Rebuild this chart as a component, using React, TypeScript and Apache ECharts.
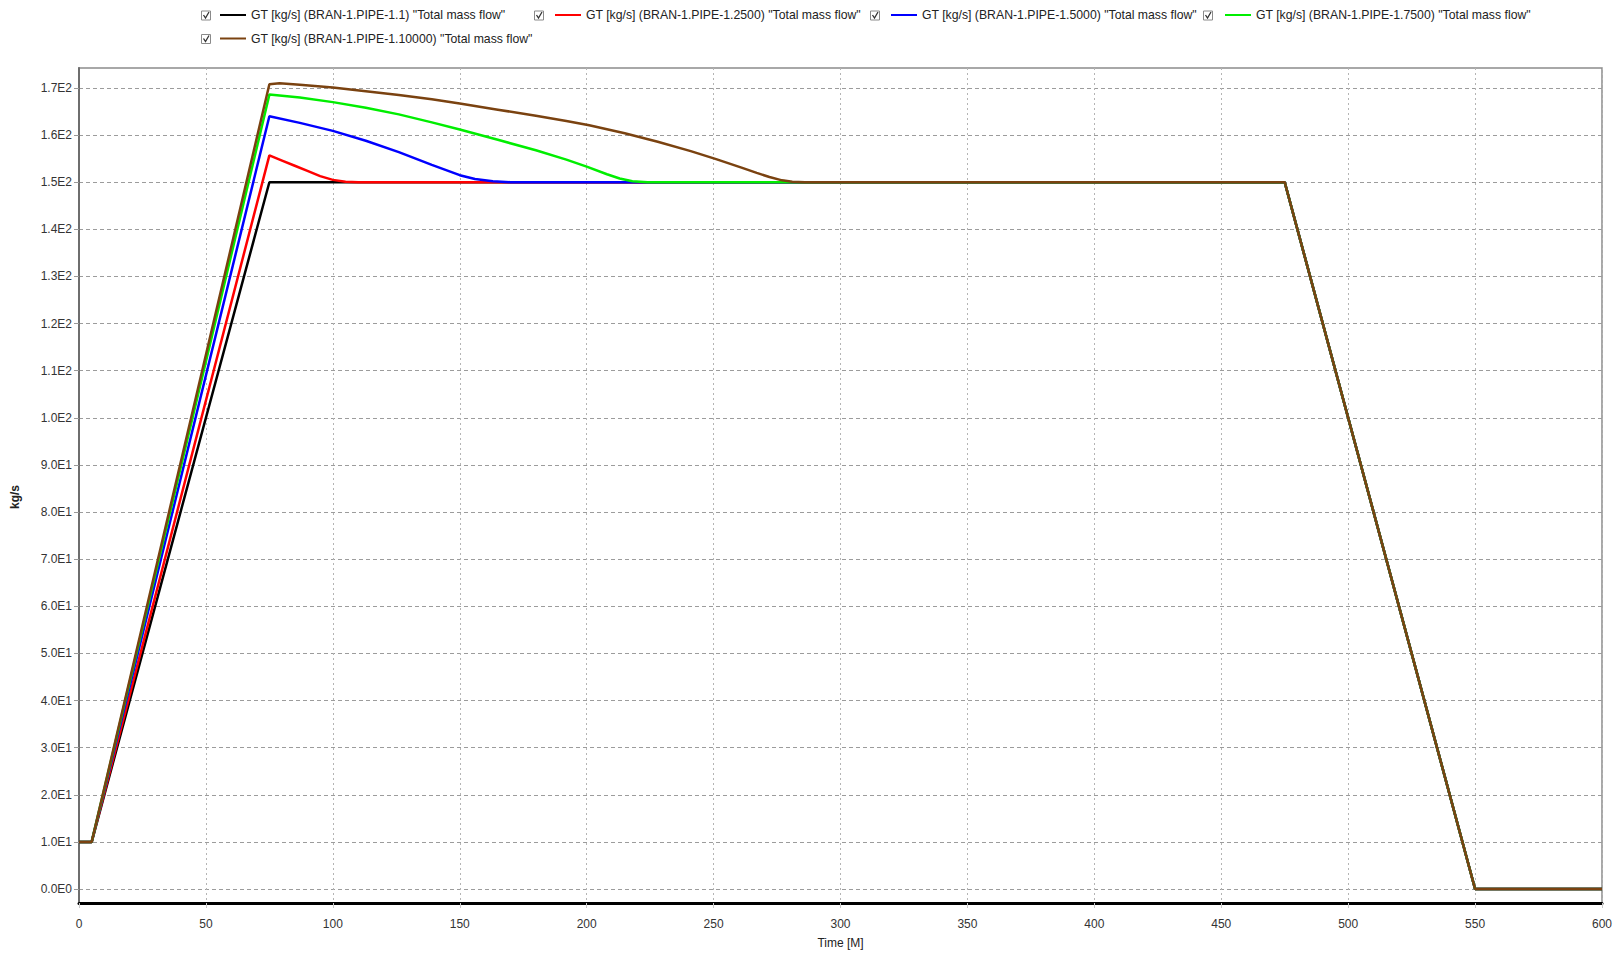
import React, { useEffect, useRef } from "react";
import * as echarts from "echarts";

const FONT = "'Liberation Sans', Arial, sans-serif";

// Series names and colours
const seriesNames = [
  'GT [kg/s] (BRAN-1.PIPE-1.1) "Total mass flow"',
  'GT [kg/s] (BRAN-1.PIPE-1.2500) "Total mass flow"',
  'GT [kg/s] (BRAN-1.PIPE-1.5000) "Total mass flow"',
  'GT [kg/s] (BRAN-1.PIPE-1.7500) "Total mass flow"',
  'GT [kg/s] (BRAN-1.PIPE-1.10000) "Total mass flow"',
];
const seriesColors = ["#000000", "#ff0000", "#0000ff", "#00ee00", "#7a4210"];

// Time and mass flow [kg/s] values
const blackT = [0, 5, 75, 475, 550, 600];
const blackV = [10, 10, 150, 150, 0, 0];

const redT = [0, 5, 75, 80, 85, 90, 95, 100, 105, 110, 475, 550, 600];
const redV = [10, 10, 155.7, 154.6, 153.5, 152.4, 151.3, 150.5, 150.1, 150, 150, 0, 0];

const blueT = [0, 5, 75, 87, 100, 113, 126, 139, 150, 156, 163, 170, 475, 550, 600];
const blueV = [10, 10, 164.0, 162.6, 160.9, 158.8, 156.4, 153.7, 151.5, 150.7, 150.2, 150, 150, 0, 0];

const greenT = [0, 5, 75, 87, 100, 113, 126, 139, 150, 165, 180, 192, 200, 208, 213, 218, 224, 475, 550, 600];
const greenV = [10, 10, 168.6, 168.0, 167.0, 165.8, 164.4, 162.7, 161.2, 159.0, 156.8, 154.8, 153.3, 151.7, 150.8, 150.2, 150, 150, 0, 0];

const brownT = [0, 5, 75, 79, 87, 100, 113, 126, 139, 150, 165, 180, 192, 201, 215, 228, 241, 251, 261, 267, 272, 277, 281, 286, 475, 550, 600];
const brownV = [10, 10, 170.8, 171.0, 170.7, 170.1, 169.3, 168.5, 167.6, 166.7, 165.4, 164.1, 163.0, 162.1, 160.4, 158.6, 156.6, 154.9, 153.1, 152.0, 151.1, 150.4, 150.1, 150, 150, 0, 0];

const seriesT = [blackT, redT, blueT, greenT, brownT];
const seriesV = [blackV, redV, blueV, greenV, brownV];

// Axis settings
const xMin = 0;
const xMax = 600;
const xStep = 50;
const yTickMin = 0;
const yTickMax = 170;
const yStep = 10;

// Legend layout: [checkbox center x, legend left, center y]
const legendPos = [
  [206, 220, 16],
  [539, 555, 16],
  [875, 891, 16],
  [1208, 1225, 16],
  [206, 220, 39.5],
];

function fmtExp(v: number): string {
  return v.toExponential(1).replace("e+", "E").replace("e-", "E-").toUpperCase();
}

export default function App() {
  const ref = useRef<HTMLDivElement>(null);
  useEffect(() => {
    if (!ref.current) return;
    const chart = echarts.init(ref.current, null, { renderer: "svg" });

    const series = seriesNames.map((name, i) => ({
      name,
      type: "line",
      xAxisIndex: 1,
      yAxisIndex: 1,
      clip: false,
      showSymbol: false,
      symbol: "none",
      lineStyle: { width: 2.5, color: seriesColors[i] },
      itemStyle: { color: seriesColors[i] },
      data: seriesT[i].map((t, k) => [t, seriesV[i][k]]),
      z: 3 + i,
    }));

    const legends = seriesNames.map((name, i) => ({
      data: [name],
      left: legendPos[i][1],
      top: legendPos[i][2] - 7,
      icon: "rect",
      itemWidth: 26,
      itemHeight: 2,
      selectedMode: false,
      padding: 0,
      textStyle: { fontFamily: FONT, fontSize: 12.25, color: "#222" },
    }));

    const checkboxes: any[] = [];
    legendPos.forEach((p) => {
      const cx = p[0];
      const cy = p[2];
      checkboxes.push({
        type: "rect",
        shape: { x: cx - 4.5, y: cy - 5, width: 9, height: 9 },
        style: { fill: "#fff", stroke: "#8a8a8a", lineWidth: 1 },
      });
      checkboxes.push({
        type: "polyline",
        shape: { points: [[cx - 2.5, cy - 1], [cx - 0.5, cy + 2], [cx + 3, cy - 4]] },
        style: { fill: null, stroke: "#333", lineWidth: 1.3 },
      });
    });

    const option: any = {
      animation: false,
      backgroundColor: "#ffffff",
      textStyle: { fontFamily: FONT },
      legend: legends,
      grid: [
        { left: 79, top: 68, right: 19, bottom: 48, show: true, borderColor: "#8c8c8c", borderWidth: 1.5, backgroundColor: "transparent" },
        { left: 79, top: 88, right: 19, bottom: 65, show: false },
      ],
      xAxis: [
        {
          gridIndex: 0,
          type: "value",
          min: xMin,
          max: xMax,
          interval: xStep,
          name: "Time [M]",
          nameLocation: "middle",
          nameGap: 34,
          nameTextStyle: { fontFamily: FONT, fontSize: 12, color: "#222" },
          axisLine: { show: true, onZero: false, lineStyle: { color: "#000", width: 3 } },
          axisTick: { show: true, length: 5, lineStyle: { color: "#c8c8c8" } },
          axisLabel: { margin: 15, fontFamily: FONT, fontSize: 12, color: "#333" },
          splitLine: { show: true, lineStyle: { color: "#b4b4b4", type: [2, 3], width: 1 } },
        },
        { gridIndex: 1, type: "value", min: xMin, max: xMax, show: false },
      ],
      yAxis: [
        {
          gridIndex: 0,
          type: "value",
          min: 0,
          max: 1,
          axisLine: { show: true, onZero: false, lineStyle: { color: "#6e6e6e", width: 2 } },
          axisTick: { show: false },
          axisLabel: { show: false },
          splitLine: { show: false },
        },
        {
          gridIndex: 1,
          type: "value",
          min: yTickMin,
          max: yTickMax,
          interval: yStep,
          axisLine: { show: false },
          axisTick: { show: true, length: 5, lineStyle: { color: "#999" } },
          axisLabel: { margin: 7, fontFamily: FONT, fontSize: 12, color: "#333", formatter: (v: number) => fmtExp(v) },
          splitLine: { show: true, lineStyle: { color: "#9c9c9c", type: [4, 3], width: 1 } },
        },
      ],
      graphic: [
        ...checkboxes,
        {
          type: "text",
          x: 15,
          y: 497,
          rotation: Math.PI / 2,
          style: { text: "kg/s", font: `bold 12px ${FONT}`, fill: "#222", align: "center", verticalAlign: "middle" },
        },
      ],
      series,
    };

    chart.setOption(option);
    return () => chart.dispose();
  }, []);

  return (
    <div
      ref={ref}
      style={{ position: "fixed", left: 0, top: 0, width: 1621, height: 954, background: "#fff" }}
    />
  );
}
